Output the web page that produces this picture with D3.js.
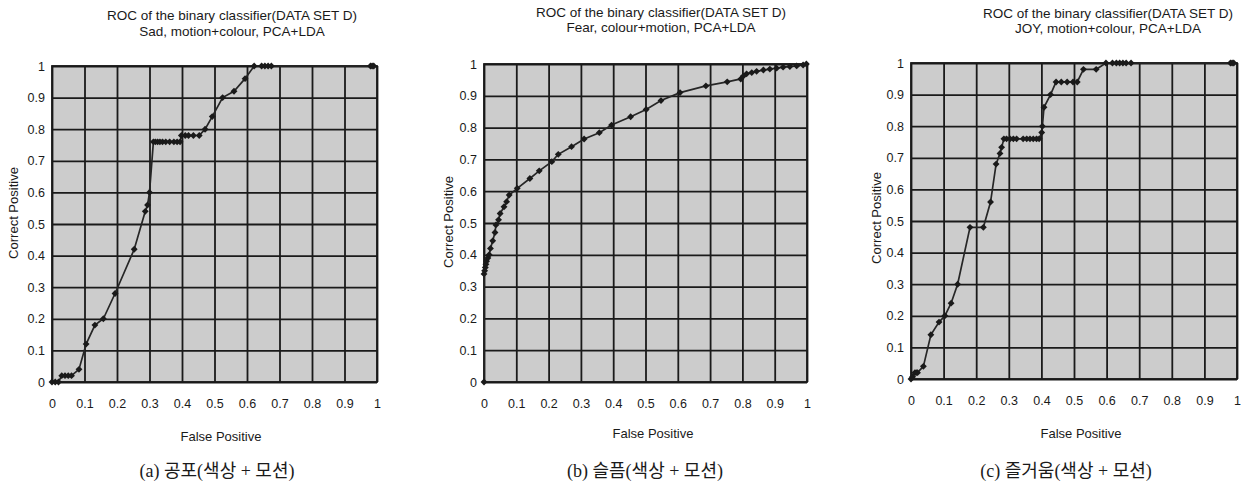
<!DOCTYPE html>
<html>
<head>
<meta charset="utf-8">
<script src="https://cdn.jsdelivr.net/npm/d3@7"></script>
<style>
  html, body { margin: 0; padding: 0; background: #fff; }
  svg { display: block; }
  .tick text { font-family: "Liberation Sans", Arial, sans-serif; font-size: 12.5px; fill: #1a1a1a; }
</style>
</head>
<body>
<svg id="chart" width="1245" height="490"></svg>
<script>
// ---------- DATA ----------
const tickValues = [0, 0.1, 0.2, 0.3, 0.4, 0.5, 0.6, 0.7, 0.8, 0.9, 1];
const tickLabels = ["0", "0.1", "0.2", "0.3", "0.4", "0.5", "0.6", "0.7", "0.8", "0.9", "1"];

const titles = [
  ["ROC of the binary classifier(DATA SET D)", "Sad, motion+colour, PCA+LDA"],
  ["ROC of the binary classifier(DATA SET D)", "Fear, colour+motion, PCA+LDA"],
  ["ROC of the binary classifier(DATA SET D)", "JOY, motion+colour, PCA+LDA"]
];
const captions = ["(a) 공포(색상  +  모션)", "(b) 슬픔(색상 + 모션)", "(c) 즐거움(색상 + 모션)"];
const xLabel = "False Positive";
const yLabel = "Correct Positive";

// Panel (a) Sad
const sadFP = [0, 0.01, 0.02, 0.03, 0.04, 0.05, 0.06, 0.083, 0.105, 0.132, 0.158, 0.194, 0.253, 0.287, 0.294, 0.300,
  0.312, 0.318, 0.325, 0.332, 0.340, 0.350, 0.362, 0.375, 0.385, 0.394,
  0.398, 0.41, 0.42, 0.435, 0.453,
  0.471, 0.493, 0.525, 0.56, 0.594,
  0.622, 0.645, 0.655, 0.665, 0.675, 0.98, 0.985, 0.99];
const sadTP = [0, 0, 0, 0.02, 0.02, 0.02, 0.02, 0.04, 0.12, 0.18, 0.20, 0.28, 0.42, 0.54, 0.56, 0.60,
  0.76, 0.76, 0.76, 0.76, 0.76, 0.76, 0.76, 0.76, 0.76, 0.76,
  0.78, 0.78, 0.78, 0.78, 0.78,
  0.80, 0.84, 0.90, 0.92, 0.96,
  1, 1, 1, 1, 1, 1, 1, 1];

// Panel (b) Fear
const fearFP = [0, 0, 0.002, 0.004, 0.006, 0.008, 0.012, 0.016, 0.02, 0.027, 0.034, 0.037, 0.045, 0.05, 0.062, 0.07, 0.078,
  0.103, 0.142, 0.171, 0.21, 0.23, 0.271, 0.31, 0.357, 0.395, 0.454, 0.502, 0.548, 0.607, 0.687, 0.753, 0.795,
  0.803, 0.813, 0.829, 0.844, 0.865, 0.885, 0.906, 0.926, 0.947, 0.968, 0.988, 0.998];
const fearTP = [0, 0.34, 0.35, 0.36, 0.37, 0.38, 0.39, 0.40, 0.42, 0.444, 0.47, 0.494, 0.51, 0.53, 0.551, 0.567, 0.588,
  0.609, 0.64, 0.664, 0.693, 0.716, 0.74, 0.764, 0.784, 0.808, 0.834, 0.857, 0.885, 0.91, 0.931, 0.944, 0.953,
  0.962, 0.969, 0.973, 0.977, 0.981, 0.984, 0.987, 0.99, 0.992, 0.994, 0.997, 1.0];

// Panel (c) Joy
const joyFP = [0, 0.005, 0.012, 0.016, 0.02, 0.038, 0.061, 0.086, 0.104, 0.123, 0.143, 0.181, 0.222, 0.244, 0.261, 0.273, 0.278,
  0.285, 0.293, 0.304, 0.314, 0.324, 0.344, 0.355, 0.365, 0.375, 0.385, 0.393,
  0.401, 0.403, 0.408, 0.428,
  0.445, 0.461, 0.479, 0.497, 0.51,
  0.529, 0.568,
  0.598, 0.618, 0.63, 0.64, 0.65, 0.66, 0.675, 0.98, 0.985, 0.99];
const joyTP = [0, 0.007, 0.02, 0.02, 0.02, 0.04, 0.14, 0.18, 0.20, 0.24, 0.30, 0.48, 0.48, 0.56, 0.68, 0.714, 0.733,
  0.76, 0.76, 0.76, 0.76, 0.76, 0.76, 0.76, 0.76, 0.76, 0.76, 0.76,
  0.78, 0.80, 0.86, 0.90,
  0.94, 0.94, 0.94, 0.94, 0.94,
  0.98, 0.98,
  1, 1, 1, 1, 1, 1, 1, 1, 1, 1];

const seriesFP = [sadFP, fearFP, joyFP];
const seriesTP = [sadTP, fearTP, joyTP];

// ---------- LAYOUT ----------
const panels = [
  { left: 52,  right: 377,  top: 66, bottom: 382, titleX: 232, titleY: [20, 36], yLabX: 13,  yLabY: 213, xLabX: 221,  xLabY: 441, capX: 217 },
  { left: 484, right: 807,  top: 64, bottom: 382, titleX: 661, titleY: [17, 32], yLabX: 448, yLabY: 222, xLabX: 653,  xLabY: 438, capX: 645 },
  { left: 911, right: 1237, top: 63, bottom: 379, titleX: 1108, titleY: [18, 33], yLabX: 876, yLabY: 218, xLabX: 1081, xLabY: 438, capX: 1066 }
];

const svg = d3.select("#chart");
const sans = '"Liberation Sans", Arial, sans-serif';

panels.forEach((p, i) => {
  const w = p.right - p.left, h = p.bottom - p.top;
  const x = d3.scaleLinear().domain([0, 1]).range([p.left, p.right]);
  const y = d3.scaleLinear().domain([0, 1]).range([p.bottom, p.top]);

  svg.append("rect")
    .attr("x", p.left).attr("y", p.top).attr("width", w).attr("height", h)
    .attr("fill", "#cccccc");

  const gx = svg.append("g")
    .attr("transform", `translate(0,${p.bottom})`)
    .call(d3.axisBottom(x).tickValues(tickValues).tickFormat((d, k) => tickLabels[k])
      .tickSize(-h).tickPadding(17));
  gx.select(".domain").remove();
  gx.selectAll(".tick line").attr("stroke", "#1a1a1a").attr("stroke-width", 1.8);

  const gy = svg.append("g")
    .attr("transform", `translate(${p.left},0)`)
    .call(d3.axisLeft(y).tickValues(tickValues).tickFormat((d, k) => tickLabels[k])
      .tickSize(-w).tickPadding(7));
  gy.select(".domain").remove();
  gy.selectAll(".tick line").attr("stroke", "#1a1a1a").attr("stroke-width", 1.8);

  svg.append("rect")
    .attr("x", p.left).attr("y", p.top).attr("width", w).attr("height", h)
    .attr("fill", "none").attr("stroke", "#1a1a1a").attr("stroke-width", 1.8);

  const pts = seriesFP[i].map((fp, k) => [fp, seriesTP[i][k]]);
  svg.append("path")
    .datum(pts)
    .attr("fill", "none")
    .attr("stroke", "#262626")
    .attr("stroke-width", 1.7)
    .attr("d", d3.line().x(d => x(d[0])).y(d => y(d[1])));

  const sym = d3.symbol().type(d3.symbolDiamond2).size(30);
  svg.append("g").selectAll("path")
    .data(pts).join("path")
    .attr("transform", d => `translate(${x(d[0])},${y(d[1])})`)
    .attr("d", sym)
    .attr("fill", "#1a1a1a");

  titles[i].forEach((t, k) => {
    svg.append("text")
      .attr("x", p.titleX).attr("y", p.titleY[k])
      .attr("text-anchor", "middle")
      .attr("font-family", sans).attr("font-size", 13.5).attr("fill", "#1a1a1a")
      .text(t);
  });

  svg.append("text")
    .attr("x", p.xLabX).attr("y", p.xLabY)
    .attr("text-anchor", "middle")
    .attr("font-family", sans).attr("font-size", 13).attr("fill", "#1a1a1a")
    .text(xLabel);

  svg.append("text")
    .attr("transform", `translate(${p.yLabX},${p.yLabY}) rotate(-90)`)
    .attr("text-anchor", "middle")
    .attr("dy", "0.35em")
    .attr("font-family", sans).attr("font-size", 13).attr("fill", "#1a1a1a")
    .text(yLabel);

  svg.append("text")
    .attr("x", p.capX).attr("y", 477)
    .attr("text-anchor", "middle")
    .attr("font-family", '"Liberation Serif", "Noto Sans CJK KR", serif')
    .attr("font-size", 18).attr("fill", "#1a1a1a")
    .text(captions[i]);
});
</script>
</body>
</html>
